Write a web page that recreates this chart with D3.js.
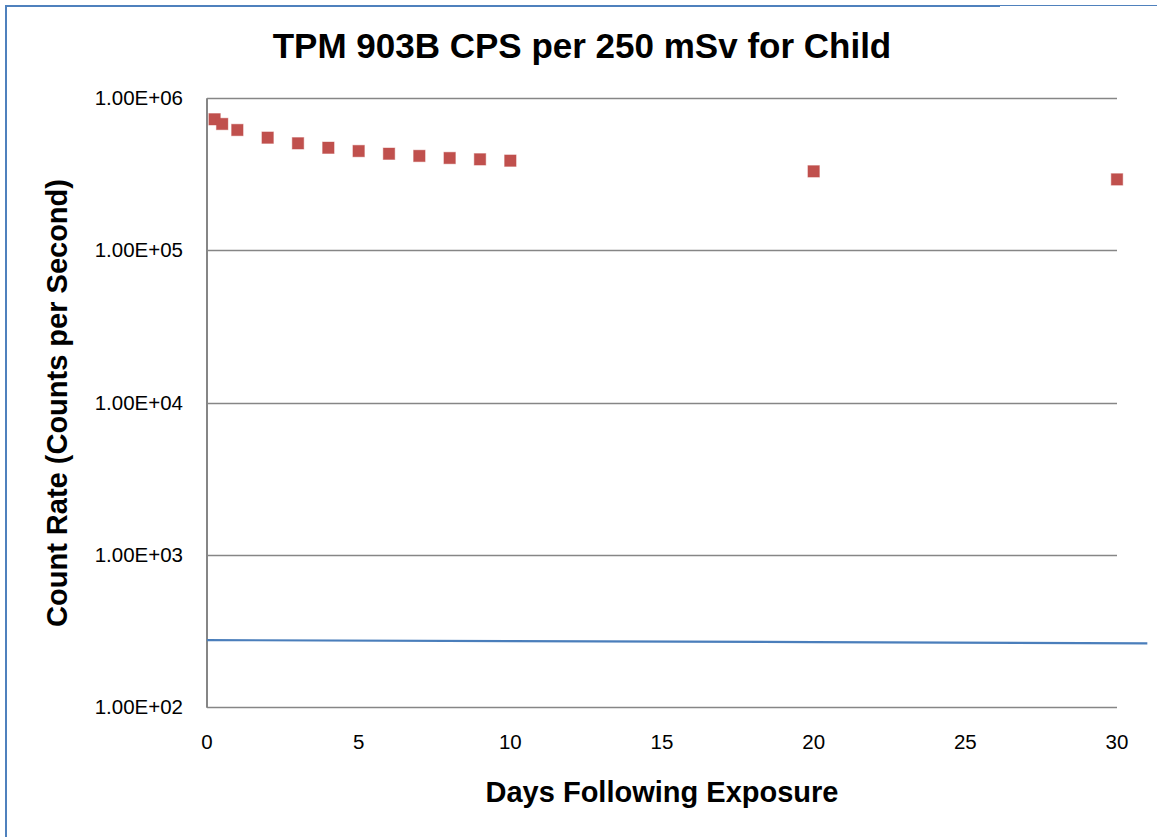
<!DOCTYPE html>
<html>
<head>
<meta charset="utf-8">
<script src="https://cdn.jsdelivr.net/npm/d3@7"></script>
<style>
html,body{margin:0;padding:0;background:#fff;}
svg{display:block;font-family:"Liberation Sans",Arial,sans-serif;}
</style>
</head>
<body>
<svg id="chart" width="1157" height="837"></svg>
<script>
const titleText = "TPM 903B CPS per 250 mSv for Child";
const xTitle = "Days Following Exposure";
const yTitle = "Count Rate (Counts per Second)";

const pointDays = [0.25, 0.5, 1, 2, 3, 4, 5, 6, 7, 8, 9, 10, 20, 30];
const pointCps = [728000, 678000, 619000, 551000, 506000, 473000, 450000, 432000, 418000, 405000, 397000, 389000, 331000, 293000];

const lineDays = [0, 10, 20, 31];
const lineCps = [274, 270, 266, 261];

const xTicks = [0, 5, 10, 15, 20, 25, 30];
const yTicks = [1e2, 1e3, 1e4, 1e5, 1e6];
const yTickLabels = ["1.00E+02", "1.00E+03", "1.00E+04", "1.00E+05", "1.00E+06"];

const svg = d3.select("#chart");
const W = 1157, H = 837;
const plot = {left: 207, right: 1117, top: 98.3, bottom: 706.7};

const x = d3.scaleLinear().domain([0, 30]).range([plot.left, plot.right]);
const y = d3.scaleLog().domain([1e2, 1e6]).range([plot.bottom, plot.top]);

// outer frame (blue)
svg.append("line").attr("x1", 6).attr("x2", 6).attr("y1", 5).attr("y2", H)
  .attr("stroke", "#4F81BD").attr("stroke-width", 2);
svg.append("line").attr("x1", 5).attr("x2", 1000).attr("y1", 6).attr("y2", 6)
  .attr("stroke", "#4F81BD").attr("stroke-width", 2);
svg.append("line").attr("x1", 1000).attr("x2", W).attr("y1", 5.5).attr("y2", 5.5)
  .attr("stroke", "#4F81BD").attr("stroke-width", 1);

// gridlines
svg.append("g").selectAll("line").data(yTicks).join("line")
  .attr("x1", plot.left).attr("x2", plot.right)
  .attr("y1", d => Math.round(y(d)) + 0.5).attr("y2", d => Math.round(y(d)) + 0.5)
  .attr("stroke", "#868686").attr("stroke-width", 1.5);

// left axis line
svg.append("line").attr("x1", plot.left).attr("x2", plot.left)
  .attr("y1", plot.top).attr("y2", plot.bottom + 1)
  .attr("stroke", "#868686").attr("stroke-width", 2);

// y tick labels
svg.append("g").selectAll("text").data(yTicks).join("text")
  .attr("x", 183).attr("y", d => y(d) + 7)
  .attr("text-anchor", "end").attr("font-size", 20.5).attr("fill", "#000")
  .text((d, i) => yTickLabels[i]);

// x tick labels
svg.append("g").selectAll("text").data(xTicks).join("text")
  .attr("x", d => x(d)).attr("y", 749)
  .attr("text-anchor", "middle").attr("font-size", 20.5).attr("fill", "#000")
  .text(d => d);

// blue line series
const line = d3.line().x((d, i) => x(lineDays[i])).y(d => y(d));
svg.append("path").datum(lineCps).attr("d", line)
  .attr("fill", "none").attr("stroke", "#4A7EBB").attr("stroke-width", 2.2);

// red square markers
const s = 11.5;
svg.append("g").selectAll("rect").data(pointCps).join("rect")
  .attr("x", (d, i) => x(pointDays[i]) - s / 2)
  .attr("y", d => y(d) - s / 2)
  .attr("width", s).attr("height", s)
  .attr("fill", "#C0504D").attr("stroke", "#C0504D").attr("stroke-opacity", 0.4).attr("stroke-width", 1);

// titles
svg.append("text").attr("x", 582).attr("y", 58).attr("text-anchor", "middle")
  .attr("font-size", 35).attr("font-weight", "bold").text(titleText);
svg.append("text").attr("x", 662).attr("y", 802).attr("text-anchor", "middle")
  .attr("font-size", 29).attr("font-weight", "bold").text(xTitle);
svg.append("text").attr("transform", "translate(67,403) rotate(-90)").attr("text-anchor", "middle")
  .attr("font-size", 29).attr("font-weight", "bold").text(yTitle);
</script>
</body>
</html>
